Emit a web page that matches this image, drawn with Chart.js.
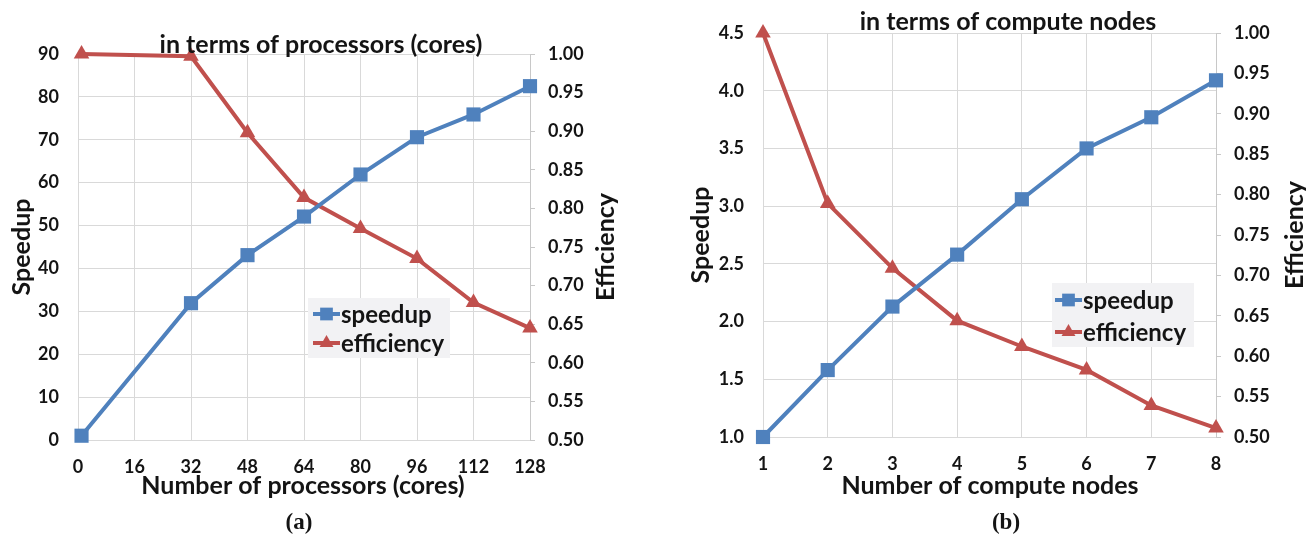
<!DOCTYPE html>
<html>
<head>
<meta charset="utf-8">
<script src="https://cdn.jsdelivr.net/npm/chart.js@4.4.1/dist/chart.umd.min.js"></script>
<style>
  html, body { margin: 0; padding: 0; background: #ffffff; }
  #wrap { position: relative; width: 1306px; height: 534px; overflow: hidden; }
  #wrap canvas { position: absolute; top: 0; }
</style>
</head>
<body>
<div id="wrap">
  <canvas id="coreChart" width="653" height="534" style="left:0px"></canvas>
  <canvas id="nodeChart" width="653" height="534" style="left:653px"></canvas>
</div>
<script>
// ---- (a) scaling by processor cores ----
const coreCounts      = [1, 32, 48, 64, 80, 96, 112, 128];
const coreSpeedup     = [1.0, 31.9, 43.1, 52.1, 61.9, 70.6, 75.9, 82.5];
const coreEfficiency  = [1.0, 0.997, 0.898, 0.814, 0.774, 0.735, 0.678, 0.645];
const coreXTicks      = [0, 16, 32, 48, 64, 80, 96, 112, 128];
const coreSpeedupTicks = [0, 10, 20, 30, 40, 50, 60, 70, 80, 90];

// ---- (b) scaling by compute nodes ----
const nodeCounts      = [1, 2, 3, 4, 5, 6, 7, 8];
const nodeSpeedup     = [1.0, 1.58, 2.13, 2.58, 3.06, 3.50, 3.77, 4.09];
const nodeEfficiency  = [1.0, 0.789, 0.709, 0.644, 0.612, 0.583, 0.539, 0.511];
const nodeXTicks      = [1, 2, 3, 4, 5, 6, 7, 8];
const nodeSpeedupTicks = [1.0, 1.5, 2.0, 2.5, 3.0, 3.5, 4.0, 4.5];

// shared right-hand axis
const efficiencyTicks = [0.50, 0.55, 0.60, 0.65, 0.70, 0.75, 0.80, 0.85, 0.90, 0.95, 1.00];
const seriesLabels = ['speedup', 'efficiency'];

const BLUE = '#4f81bd';
const RED = '#c0504d';
const GRID = '#d9d9d9';
const AXIS = '#c8c8c8';
const INK = '#141414';
const FONT = 'Lato';

Chart.defaults.font.family = FONT;

// Draws a series marker (square / triangle) the same way for the legend
function drawMarker(ctx, style, x, y, r, color) {
  ctx.save();
  ctx.fillStyle = color;
  ctx.beginPath();
  if (style === 'rect') {
    const s = r * Math.SQRT1_2;
    ctx.rect(x - s, y - s, 2 * s, 2 * s);
  } else {
    const h = r * Math.sqrt(3) / 2;
    ctx.moveTo(x, y - r);
    ctx.lineTo(x + h, y + r / 2);
    ctx.lineTo(x - h, y + r / 2);
    ctx.closePath();
  }
  ctx.fill();
  ctx.restore();
}

// Titles, axis titles, in-plot legend and panel caption
const panelText = {
  id: 'panelText',
  afterDraw(chart, args, opts) {
    const ctx = chart.ctx;
    ctx.save();
    ctx.fillStyle = INK;
    ctx.textAlign = 'center';

    ctx.font = `bold ${opts.titleSize}px ${FONT}`;
    ctx.textBaseline = 'alphabetic';
    ctx.fillText(opts.title, opts.titleX, opts.titleY);

    ctx.font = `bold ${opts.axisTitleSize}px ${FONT}`;
    ctx.fillText(opts.xTitle, opts.xTitleX, opts.xTitleY);

    ctx.textBaseline = 'middle';
    [[opts.yTitle, opts.yTitleX, opts.yTitleY], [opts.y1Title, opts.y1TitleX, opts.y1TitleY]].forEach(([t, x, y]) => {
      ctx.save();
      ctx.translate(x, y);
      ctx.rotate(-Math.PI / 2);
      ctx.fillText(t, 0, 0);
      ctx.restore();
    });

    // caption
    ctx.font = `bold ${opts.captionSize}px "Liberation Serif"`;
    ctx.textBaseline = 'alphabetic';
    ctx.fillText(opts.caption, opts.captionX, opts.captionY);

    // legend
    const L = opts.legend;
    ctx.fillStyle = '#f2f2f4';
    ctx.fillRect(L.x, L.y, L.w, L.h);
    ctx.font = `bold ${L.size}px ${FONT}`;
    ctx.textAlign = 'left';
    ctx.textBaseline = 'middle';
    chart.data.datasets.forEach((ds, i) => {
      const y = L.rowY[i];
      ctx.strokeStyle = ds.borderColor;
      ctx.lineWidth = 4;
      ctx.beginPath();
      ctx.moveTo(L.lineX0, y);
      ctx.lineTo(L.lineX1, y);
      ctx.stroke();
      drawMarker(ctx, ds.pointStyle, (L.lineX0 + L.lineX1) / 2, y, ds.pointStyle === 'rect' ? 9 : 8, ds.borderColor);
      ctx.fillStyle = INK;
      ctx.fillText(ds.label, L.textX, y + 1);
    });
    ctx.restore();
  }
};

function fixedTicks(values) {
  return scale => { scale.ticks = values.map(v => ({ value: v })); };
}

function buildPanel(canvasId, spec) {
  const W = 653, H = 534;
  const tickFont = { family: FONT, weight: 'bold', size: 18 };
  return new Chart(document.getElementById(canvasId), {
    type: 'line',
    data: {
      datasets: [
        {
          label: seriesLabels[0],
          data: spec.x.map((v, i) => ({ x: v, y: spec.speedup[i] })),
          yAxisID: 'y',
          borderColor: BLUE, backgroundColor: BLUE,
          pointBackgroundColor: BLUE, pointBorderColor: BLUE,
          borderWidth: 4, pointStyle: 'rect', pointRadius: 10, pointBorderWidth: 0,
          tension: 0, clip: false
        },
        {
          label: seriesLabels[1],
          data: spec.x.map((v, i) => ({ x: v, y: spec.efficiency[i] })),
          yAxisID: 'y1',
          borderColor: RED, backgroundColor: RED,
          pointBackgroundColor: RED, pointBorderColor: RED,
          borderWidth: 4, pointStyle: 'triangle', pointRadius: 9, pointBorderWidth: 0,
          tension: 0, clip: false
        }
      ]
    },
    options: {
      responsive: false,
      animation: false,
      devicePixelRatio: 1,
      layout: { padding: { top: spec.area.top, left: 0, right: 0, bottom: 0 } },
      plugins: {
        legend: { display: false },
        tooltip: { enabled: false },
        panelText: spec.text
      },
      scales: {
        x: {
          type: 'linear', position: 'bottom',
          min: spec.xTicks[0], max: spec.xTicks[spec.xTicks.length - 1],
          afterBuildTicks: fixedTicks(spec.xTicks),
          afterFit: s => { s.height = H - spec.area.bottom; },
          grid: { color: GRID, lineWidth: 1, drawTicks: false },
          border: { color: GRID },
          ticks: { font: tickFont, color: INK, padding: 16, autoSkip: false, maxRotation: 0 }
        },
        y: {
          type: 'linear', position: 'left',
          min: spec.yTicks[0], max: spec.yTicks[spec.yTicks.length - 1],
          afterBuildTicks: fixedTicks(spec.yTicks),
          afterFit: s => { s.width = spec.area.left; },
          grid: { color: GRID, lineWidth: 1, drawTicks: false },
          border: { color: GRID },
          ticks: { font: tickFont, color: INK, padding: 19, callback: v => v.toFixed(spec.yDecimals) }
        },
        y1: {
          type: 'linear', position: 'right',
          min: efficiencyTicks[0], max: efficiencyTicks[efficiencyTicks.length - 1],
          afterBuildTicks: fixedTicks(efficiencyTicks),
          afterFit: s => { s.width = W - spec.area.right; },
          grid: { drawOnChartArea: false, color: AXIS, tickLength: 5 },
          border: { color: AXIS },
          ticks: { font: tickFont, color: INK, padding: 13, callback: v => v.toFixed(2) }
        }
      }
    },
    plugins: [panelText]
  });
}

buildPanel('coreChart', {
  x: coreCounts, speedup: coreSpeedup, efficiency: coreEfficiency,
  xTicks: coreXTicks, yTicks: coreSpeedupTicks, yDecimals: 0,
  area: { left: 78, right: 530, top: 54, bottom: 440 },
  text: {
    title: 'in terms of processors (cores)', titleX: 321, titleY: 53, titleSize: 25,
    xTitle: 'Number of processors (cores)', xTitleX: 303, xTitleY: 494,
    yTitle: 'Speedup', yTitleX: 22, yTitleY: 247,
    y1Title: 'Efficiency', y1TitleX: 606, y1TitleY: 247,
    axisTitleSize: 25,
    caption: '(a)', captionX: 299, captionY: 529, captionSize: 23,
    legend: { x: 308, y: 298, w: 142, h: 60, lineX0: 313, lineX1: 340, textX: 341, rowY: [314, 343], size: 24 }
  }
});

buildPanel('nodeChart', {
  x: nodeCounts, speedup: nodeSpeedup, efficiency: nodeEfficiency,
  xTicks: nodeXTicks, yTicks: nodeSpeedupTicks, yDecimals: 1,
  area: { left: 110, right: 563, top: 33, bottom: 437 },
  text: {
    title: 'in terms of compute nodes', titleX: 355, titleY: 30, titleSize: 25,
    xTitle: 'Number of compute nodes', xTitleX: 337, xTitleY: 494,
    yTitle: 'Speedup', yTitleX: 48, yTitleY: 235,
    y1Title: 'Efficiency', y1TitleX: 642, y1TitleY: 235,
    axisTitleSize: 25,
    caption: '(b)', captionX: 353, captionY: 529, captionSize: 23,
    legend: { x: 399, y: 283, w: 142, h: 64, lineX0: 402, lineX1: 429, textX: 430, rowY: [300, 332], size: 24 }
  }
});
</script>
</body>
</html>
